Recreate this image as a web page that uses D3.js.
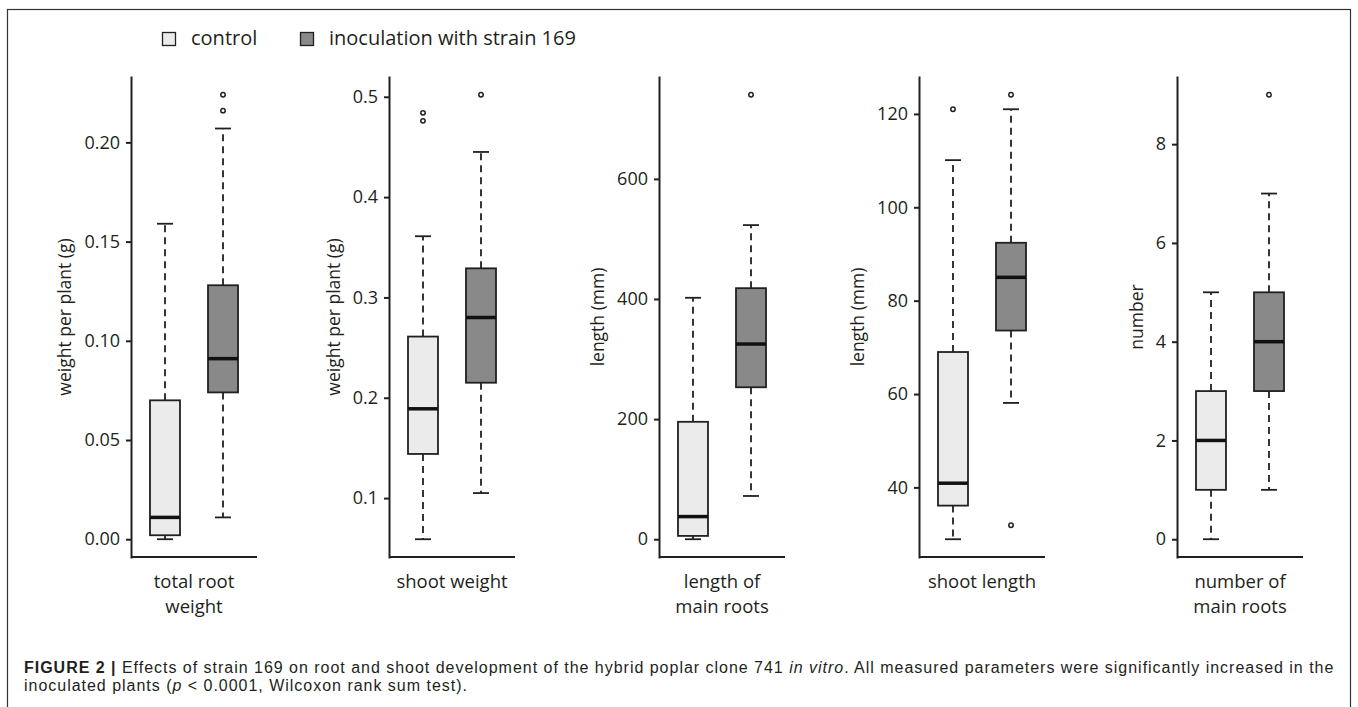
<!DOCTYPE html>
<html>
<head>
<meta charset="utf-8">
<script src="https://cdn.jsdelivr.net/npm/d3@7"></script>
<style>
  body { margin: 0; background: #fff; }
  svg { display: block; }
  .tick text { font-family: "Open Sans", sans-serif; font-size: 18px; fill: #231f20; }
  .tick line, .domain { stroke: #231f20; stroke-width: 2; }
</style>
</head>
<body>
<svg id="svg1" width="1358" height="707"></svg>
<script>
var groups = ["control", "inoculation with strain 169"];
var groupFill = ["#ebebeb", "#898989"];

var panelNames = [["total root", "weight"], ["shoot weight"], ["length of", "main roots"], ["shoot length"], ["number of", "main roots"]];
var yTitles = ["weight per plant (g)", "weight per plant (g)", "length (mm)", "length (mm)", "number"];
var yTicks = [[0, 0.05, 0.10, 0.15, 0.20], [0.1, 0.2, 0.3, 0.4, 0.5], [0, 200, 400, 600], [40, 60, 80, 100, 120], [0, 2, 4, 6, 8]];
var tickFormats = [".2f", ".1f", "d", "d", "d"];

// [lower whisker, Q1, median, Q3, upper whisker]
var controlStats = [
  [0.000, 0.002, 0.011, 0.070, 0.159],
  [0.059, 0.144, 0.189, 0.261, 0.361],
  [0, 5.5, 37.7, 195.5, 402],
  [28.9, 36.1, 40.9, 69.0, 110.1],
  [0, 1, 2, 3, 5]
];
var inocStats = [
  [0.011, 0.074, 0.091, 0.128, 0.207],
  [0.105, 0.215, 0.280, 0.329, 0.445],
  [72, 253, 325, 418, 523],
  [58.1, 73.6, 85.0, 92.4, 121.0],
  [1, 3, 4, 5, 7]
];
var controlOutliers = [[], [0.476, 0.484], [], [121.0], []];
var inocOutliers = [[0.216, 0.224], [0.502], [740], [31.9, 124.1], [9]];

// layout
var panelLeft = [131, 389, 659, 919, 1177];
var panelWidth = 126;
var plotTop = 77, plotBottom = 557;
var boxWidth = 30, capWidth = 16;
var ink = "#231f20";

var svg = d3.select("svg");

// outer frame
svg.append("rect")
   .attr("x", 7.5).attr("y", 9.5)
   .attr("width", 1343).attr("height", 720)
   .attr("fill", "none").attr("stroke", "#333").attr("stroke-width", 1.2);

// legend
var legend = svg.append("g");
var legendX = [162, 300];
groups.forEach(function(g, i) {
  legend.append("rect")
        .attr("x", legendX[i] + 0.5).attr("y", 32.5)
        .attr("width", 13).attr("height", 13)
        .attr("fill", groupFill[i]).attr("stroke", ink).attr("stroke-width", 1.3);
  legend.append("text")
        .attr("x", legendX[i] + 29).attr("y", 45)
        .attr("font-family", "Open Sans, sans-serif").attr("font-size", 20)
        .attr("fill", ink)
        .text(g);
});

panelNames.forEach(function(name, p) {
  var allVals = controlStats[p].concat(inocStats[p], controlOutliers[p], inocOutliers[p]);
  var lo = d3.min(allVals), hi = d3.max(allVals), pad = (hi - lo) * 0.04;

  var y = d3.scaleLinear().domain([lo - pad, hi + pad]).range([plotBottom, plotTop]);
  var x = d3.scalePoint().domain(groups).range([0, panelWidth]).padding(0.586);

  var g = svg.append("g").attr("transform", "translate(" + panelLeft[p] + ",0)");

  var yAxis = g.append("g")
               .call(d3.axisLeft(y).tickValues(yTicks[p]).tickFormat(d3.format(tickFormats[p]))
                       .tickSize(5).tickSizeOuter(0).tickPadding(6));
  yAxis.select(".domain").attr("stroke-linecap", "square");

  g.append("line")
   .attr("x1", 0).attr("x2", panelWidth)
   .attr("y1", plotBottom).attr("y2", plotBottom)
   .attr("stroke", ink).attr("stroke-width", 2);

  // y title placed left of the widest tick label
  var labelLeft = d3.min(yAxis.selectAll(".tick text").nodes(), function(n) {
    var b = n.getBBox(); return b.x;
  }) - 5;
  g.append("text")
   .attr("transform", "translate(" + (labelLeft - 8) + "," + ((plotTop + plotBottom) / 2) + ") rotate(-90)")
   .attr("text-anchor", "middle")
   .attr("font-family", "Open Sans, sans-serif").attr("font-size", 17.5)
   .attr("fill", ink)
   .text(yTitles[p]);

  // x label (one or two lines)
  var xl = g.append("text")
            .attr("text-anchor", "middle")
            .attr("font-family", "Open Sans, sans-serif").attr("font-size", 18.5)
            .attr("fill", ink);
  name.forEach(function(line, k) {
    xl.append("tspan").attr("x", panelWidth / 2).attr("y", 588 + k * 25).text(line);
  });

  var stats = [controlStats[p], inocStats[p]];
  var outs = [controlOutliers[p], inocOutliers[p]];

  groups.forEach(function(grp, i) {
    var s = stats[i], cx = x(grp);
    var bg = g.append("g");

    // whiskers
    bg.append("line").attr("x1", cx).attr("x2", cx).attr("y1", y(s[3])).attr("y2", y(s[4]))
      .attr("stroke", ink).attr("stroke-width", 1.8).attr("stroke-dasharray", "7,5");
    bg.append("line").attr("x1", cx).attr("x2", cx).attr("y1", y(s[1])).attr("y2", y(s[0]))
      .attr("stroke", ink).attr("stroke-width", 1.8).attr("stroke-dasharray", "7,5");
    [s[0], s[4]].forEach(function(v) {
      bg.append("line").attr("x1", cx - capWidth / 2).attr("x2", cx + capWidth / 2)
        .attr("y1", y(v)).attr("y2", y(v))
        .attr("stroke", ink).attr("stroke-width", 1.8);
    });

    // box
    bg.append("rect")
      .attr("x", cx - boxWidth / 2).attr("width", boxWidth)
      .attr("y", y(s[3])).attr("height", y(s[1]) - y(s[3]))
      .attr("fill", groupFill[i]).attr("stroke", ink).attr("stroke-width", 1.8);

    // median
    bg.append("line").attr("x1", cx - boxWidth / 2).attr("x2", cx + boxWidth / 2)
      .attr("y1", y(s[2])).attr("y2", y(s[2]))
      .attr("stroke", "#111").attr("stroke-width", 3.5);

    // outliers
    bg.selectAll("circle").data(outs[i]).enter().append("circle")
      .attr("cx", cx).attr("cy", function(d) { return y(d); }).attr("r", 2.2)
      .attr("fill", "#fff").attr("stroke", ink).attr("stroke-width", 1.5);
  });
});

// caption
var cap = svg.append("text")
             .attr("font-family", "Liberation Sans, Arial, sans-serif")
             .attr("font-size", 16).attr("letter-spacing", 0.98).attr("fill", ink);
var l1 = cap.append("tspan").attr("x", 24).attr("y", 673);
l1.append("tspan").attr("font-weight", "bold").text("FIGURE 2 ");
l1.append("tspan").attr("font-weight", "bold").text("| ");
l1.append("tspan").text("Effects of strain 169 on root and shoot development of the hybrid poplar clone 741 ");
l1.append("tspan").attr("font-style", "italic").text("in vitro");
l1.append("tspan").text(". All measured parameters were significantly increased in the");
var l2 = cap.append("tspan").attr("x", 24).attr("y", 691);
l2.append("tspan").text("inoculated plants (");
l2.append("tspan").attr("font-style", "italic").text("p");
l2.append("tspan").text(" < 0.0001, Wilcoxon rank sum test).");
</script>
</body>
</html>
